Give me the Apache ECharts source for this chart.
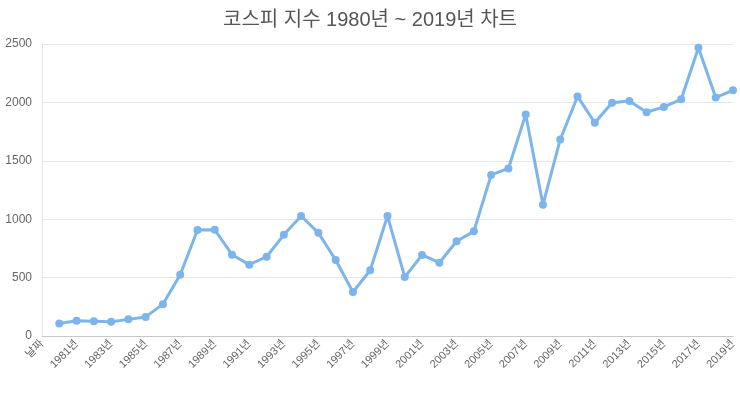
<!DOCTYPE html>
<html><head><meta charset="utf-8">
<script src="https://cdn.jsdelivr.net/npm/echarts@6/dist/echarts.min.js"></script>
<style>html,body{margin:0;padding:0;background:#fff}#c{width:740px;height:395px}</style>
</head><body><div id="c"></div>
<script>
const categories = ['날짜','1980년','1981년','1982년','1983년','1984년','1985년','1986년','1987년','1988년','1989년','1990년','1991년','1992년','1993년','1994년','1995년','1996년','1997년','1998년','1999년','2000년','2001년','2002년','2003년','2004년','2005년','2006년','2007년','2008년','2009년','2010년','2011년','2012년','2013년','2014년','2015년','2016년','2017년','2018년','2019년'];
const kospi = [null,106.87,131.30,127.31,121.21,142.46,163.37,272.61,525.11,907.20,909.72,696.11,610.92,678.44,866.18,1027.37,882.94,651.22,376.31,562.46,1028.07,504.62,693.70,627.55,810.71,895.92,1379.37,1434.46,1897.13,1124.47,1682.77,2051.00,1825.74,1997.05,2011.34,1915.59,1961.31,2026.46,2467.49,2041.04,2105.00];
const yTicks = [0,500,1000,1500,2000,2500];
const FONT = '"Liberation Sans", "Noto Sans CJK KR", sans-serif';
const chart = echarts.init(document.getElementById('c'));
chart.setOption({
  animation:false,
  title:{text:'코스피 지수 1980년 ~ 2019년 차트',left:'center',top:5,
    textStyle:{fontFamily:FONT,fontSize:20,fontWeight:'normal',color:'#555'}},
  grid:{left:42,right:7,top:44,bottom:59,containLabel:false},
  xAxis:{type:'category',data:categories,boundaryGap:false,
    axisLine:{lineStyle:{color:'#c8c8c8',width:1}},
    axisTick:{show:false},
    axisLabel:{interval:1,rotate:45,color:'#666',fontSize:11,fontFamily:FONT,margin:6},
    splitLine:{show:false}},
  yAxis:{type:'value',min:yTicks[0],max:yTicks[yTicks.length-1],interval:500,
    axisLine:{show:true,lineStyle:{color:'#e6e6e6'}},
    axisTick:{show:false},
    axisLabel:{color:'#666',fontSize:12,fontFamily:FONT,margin:10,formatter:v=>String(v)},
    splitLine:{lineStyle:{color:'#e6e6e6'}}},
  series:[{type:'line',data:kospi,connectNulls:false,
    symbol:'circle',symbolSize:8,showAllSymbol:true,
    lineStyle:{color:'#7cb5ec',width:3},
    itemStyle:{color:'#7cb5ec'}}]
});
</script></body></html>
